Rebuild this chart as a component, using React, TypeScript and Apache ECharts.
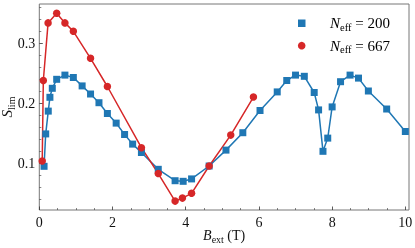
import React, { useEffect, useRef } from "react";
import * as echarts from "echarts";

const blueX = [0.13, 0.175, 0.245, 0.29, 0.355, 0.475, 0.7, 0.93, 1.17, 1.4, 1.63, 1.86, 2.1, 2.33, 2.55, 2.79, 3.25, 3.71, 3.93, 4.16, 4.64, 5.1, 5.56, 6.03, 6.5, 6.76, 7.0, 7.24, 7.51, 7.63, 7.75, 7.88, 8.0, 8.23, 8.49, 8.72, 8.99, 9.49, 10.0];
const blueY = [0.095, 0.149, 0.187, 0.21, 0.225, 0.24, 0.247, 0.243, 0.229, 0.2155, 0.201, 0.183, 0.167, 0.148, 0.132, 0.118, 0.09, 0.071, 0.07, 0.074, 0.0955, 0.122, 0.151, 0.188, 0.219, 0.238, 0.247, 0.245, 0.218, 0.189, 0.12, 0.142, 0.194, 0.236, 0.247, 0.242, 0.2205, 0.1905, 0.153];

const redX = [0.08, 0.11, 0.24, 0.475, 0.7, 0.93, 1.4, 1.86, 2.79, 3.25, 3.71, 3.91, 4.16, 4.64, 5.23, 5.85];
const redY = [0.104, 0.238, 0.334, 0.35, 0.334, 0.32, 0.275, 0.228, 0.126, 0.083, 0.037, 0.042, 0.05, 0.0955, 0.147, 0.2105];

const xMajorTicks = [0, 2, 4, 6, 8, 10];
const xMinorTicks = [0.5, 1, 1.5, 2.5, 3, 3.5, 4.5, 5, 5.5, 6.5, 7, 7.5, 8.5, 9, 9.5];
const yMajorTicks = [0.1, 0.2, 0.3];
const yMinorTicks = [0.04, 0.06, 0.08, 0.12, 0.14, 0.16, 0.18, 0.22, 0.24, 0.26, 0.28, 0.32, 0.34, 0.36];

const legendLabels = ["200", "667"];

const FONT = "Liberation Serif";
const BLUE = "#1f77b4";
const RED = "#d62728";

const makeRich = (size: number, sub: number) => ({
  i: { fontFamily: FONT, fontStyle: "italic", fontSize: size, lineHeight: size + 4, verticalAlign: "middle", color: "#111" },
  s: { fontFamily: FONT, fontSize: sub, lineHeight: sub, verticalAlign: "bottom", color: "#111" },
  n: { fontFamily: FONT, fontSize: size, lineHeight: size + 4, verticalAlign: "middle", color: "#111" },
});

export default function App() {
  const ref = useRef<HTMLDivElement>(null);
  useEffect(() => {
    if (!ref.current) return;
    const chart = echarts.init(ref.current, null, { renderer: "svg" });
    const xMin = 0, xMax = 10.1, yMin = 0.0222, yMax = 0.3655;
    const tickColor = "#333";
    chart.setOption({
      animation: false,
      grid: {
        left: 39.3, top: 4, right: 6, bottom: 38, containLabel: false, outerBoundsMode: "none",
        show: true, borderColor: "#777", borderWidth: 1, backgroundColor: "transparent",
      },
      xAxis: [
        {
          type: "value", min: xMin, max: xMax, position: "bottom",
          axisLine: { show: false },
          splitLine: { show: false },
          axisTick: { show: true, inside: true, length: 3.5, customValues: xMajorTicks, lineStyle: { color: tickColor, width: 0.8 } },
          axisLabel: { show: true, customValues: xMajorTicks, margin: 5, fontFamily: FONT, fontSize: 14, color: "#111", formatter: (v: number) => String(v) },
          name: "{i|B}{s|ext}{n| (T)}",
          nameLocation: "middle", nameGap: 16, nameMoveOverlap: false,
          nameTextStyle: { rich: makeRich(14, 10) },
        },
        {
          type: "value", min: xMin, max: xMax, position: "bottom",
          axisLine: { show: false }, splitLine: { show: false },
          axisTick: { show: true, inside: true, length: 2, customValues: xMinorTicks, lineStyle: { color: tickColor, width: 0.6 } },
          axisLabel: { show: false },
        },
      ],
      yAxis: [
        {
          type: "value", min: yMin, max: yMax, position: "left",
          axisLine: { show: false }, splitLine: { show: false },
          axisTick: { show: true, inside: true, length: 3.5, customValues: yMajorTicks, lineStyle: { color: tickColor, width: 0.8 } },
          axisLabel: { show: true, customValues: yMajorTicks, margin: 4, fontFamily: FONT, fontSize: 14, color: "#111", formatter: (v: number) => v.toFixed(1) },
          name: "{i|S}{s|lim}",
          nameLocation: "middle", nameGap: 23, nameRotate: 90, nameMoveOverlap: false,
          nameTextStyle: { rich: makeRich(15, 10) },
        },
        {
          type: "value", min: yMin, max: yMax, position: "left",
          axisLine: { show: false }, splitLine: { show: false },
          axisTick: { show: true, inside: true, length: 2, customValues: yMinorTicks, lineStyle: { color: tickColor, width: 0.6 } },
          axisLabel: { show: false },
        },
      ],
      series: [
        {
          type: "line", xAxisIndex: 0, yAxisIndex: 0,
          data: blueX.map((x, i) => [x, blueY[i]]),
          symbol: "rect", symbolSize: 7, showAllSymbol: true,
          lineStyle: { color: BLUE, width: 1.5 },
          itemStyle: { color: BLUE },
        },
        {
          type: "line", xAxisIndex: 0, yAxisIndex: 0,
          data: redX.map((x, i) => [x, redY[i]]),
          symbol: "circle", symbolSize: 7.5, showAllSymbol: true,
          lineStyle: { color: RED, width: 1.5 },
          itemStyle: { color: RED },
        },
      ],
      graphic: [
        { type: "rect", shape: { x: 298, y: 19.5, width: 7.5, height: 7.5 }, style: { fill: BLUE } },
        { type: "circle", shape: { cx: 301.7, cy: 45.7, r: 3.8 }, style: { fill: RED } },
        { type: "text", x: 330, y: 23.3, style: { text: `{i|N}{s|eff}{n| = ${legendLabels[0]}}`, rich: makeRich(15, 10.5), verticalAlign: "middle", align: "left" } },
        { type: "text", x: 330, y: 45.7, style: { text: `{i|N}{s|eff}{n| = ${legendLabels[1]}}`, rich: makeRich(15, 10.5), verticalAlign: "middle", align: "left" } },
      ],
    });
    return () => chart.dispose();
  }, []);
  return <div ref={ref} style={{ position: "fixed", left: 0, top: 0, width: 415, height: 248 }} />;
}
